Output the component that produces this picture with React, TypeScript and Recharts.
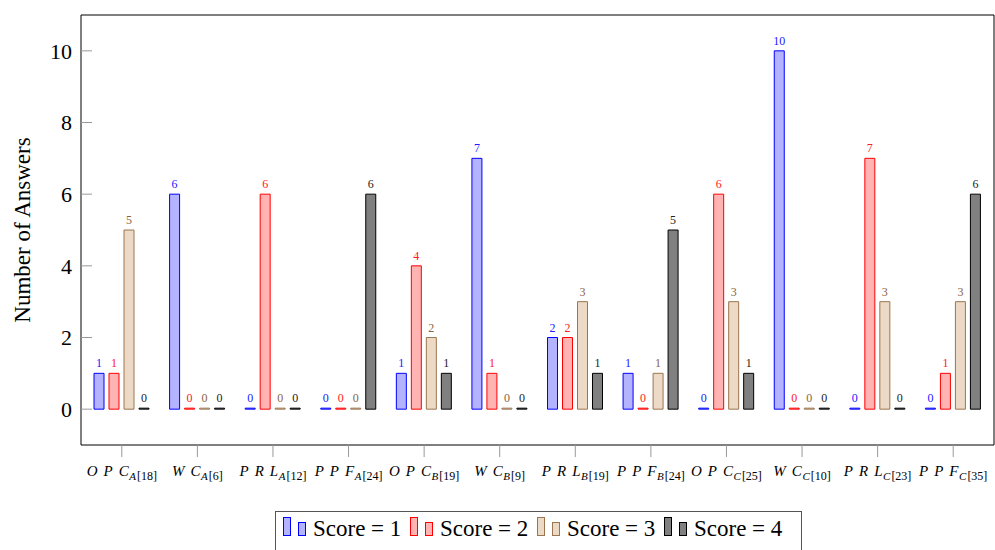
import React from 'react';
import { BarChart, Bar, XAxis, YAxis, LabelList } from 'recharts';

const catMain = ['OPC', 'WC', 'PRL', 'PPF', 'OPC', 'WC', 'PRL', 'PPF', 'OPC', 'WC', 'PRL', 'PPF'];
const catSub = ['A', 'A', 'A', 'A', 'B', 'B', 'B', 'B', 'C', 'C', 'C', 'C'];
const catRef = ['18', '6', '12', '24', '19', '9', '19', '24', '25', '10', '23', '35'];

const score1 = [1, 6, 0, 0, 1, 7, 2, 1, 0, 10, 0, 0];
const score2 = [1, 0, 6, 0, 4, 1, 2, 0, 6, 0, 7, 1];
const score3 = [5, 0, 0, 0, 2, 0, 3, 1, 3, 0, 3, 3];
const score4 = [0, 0, 0, 6, 1, 0, 1, 5, 1, 0, 0, 6];

const yTicks = [0, 2, 4, 6, 8, 10];
const seriesNames = ['Score = 1', 'Score = 2', 'Score = 3', 'Score = 4'];
const seriesKeys = ['s1', 's2', 's3', 's4'];
const strokes = ['#0000ff', '#ff0000', '#9c7650', '#000000'];
const fills = ['#b3b3ff', '#ffb3b3', '#ecd9c6', '#808080'];
const labelColors = ['#2020ff', '#ff2020', '#8a6442', '#222222'];

const names = catMain.map((m, i) => `${m}_${catSub[i]}`);
const data = names.map((n, i) => ({
  name: n,
  s1: score1[i],
  s2: score2[i],
  s3: score3[i],
  s4: score4[i],
}));

const FONT = "Liberation Serif, DejaVu Serif, serif";

function CatTick(props: any) {
  const { x, y, payload } = props;
  const i = names.indexOf(payload.value);
  if (i < 0) return null;
  const main = catMain[i];
  return (
    <text x={x} y={y + 17} textAnchor="middle" fontFamily={FONT} fill="#000">
      <tspan fontStyle="italic" fontSize={15} letterSpacing={6}>{main.slice(0, -1)}</tspan>
      <tspan fontStyle="italic" fontSize={15}>{main.slice(-1)}</tspan>
      <tspan fontStyle="italic" fontSize={11} dy={4} dx={0.5}>{catSub[i]}</tspan>
      <tspan fontSize={12} dx={1}>{`[${catRef[i]}]`}</tspan>
    </text>
  );
}

function LegendBox() {
  const entryW = 127;
  return (
    <svg
      width={528}
      height={39}
      style={{ position: 'absolute', left: 275, top: 511 }}
    >
      <rect x={0.5} y={0.5} width={526} height={40} fill="#fff" stroke="#555" />
      {seriesNames.map((s, i) => {
        const x0 = 8 + i * entryW;
        return (
          <g key={s}>
            <rect x={x0 + 0.5} y={6.5} width={7} height={18} fill={fills[i]} stroke={strokes[i]} />
            <rect x={x0 + 15.5} y={11.5} width={7} height={13} fill={fills[i]} stroke={strokes[i]} />
            <text x={x0 + 30} y={25} fontFamily={FONT} fontSize={23} fill="#000">
              {s}
            </text>
          </g>
        );
      })}
    </svg>
  );
}

export default function App() {
  return (
    <div style={{ position: 'absolute', left: 0, top: 0, width: 995, height: 550, background: '#fff' }}>
      <BarChart
        width={995}
        height={550}
        data={data}
        margin={{ top: 14, right: 0, bottom: 0, left: 0 }}
        barSize={10}
        barGap={5}
      >
        <XAxis
          dataKey="name"
          height={105}
          padding={{ left: 3, right: 3 }}
          axisLine={{ stroke: '#000' }}
          tickLine={{ stroke: '#999' }}
          tickSize={12}
          tickMargin={2}
          interval={0}
          tick={<CatTick />}
        />
        <XAxis
          xAxisId="top"
          dataKey="name"
          orientation="top"
          height={1}
          padding={{ left: 3, right: 3 }}
          axisLine={{ stroke: '#000' }}
          tickLine={{ stroke: '#999' }}
          tickSize={12}
          interval={0}
          tick={false}
        />
        <YAxis
          width={81}
          domain={[-1, 11]}
          ticks={yTicks}
          allowDataOverflow
          axisLine={{ stroke: '#000' }}
          tickLine={{ stroke: '#999' }}
          tickSize={-11}
          tickMargin={20}
          tick={{ fontFamily: FONT, fontSize: 22, fill: '#000' }}
          label={{
            value: 'Number of Answers',
            angle: -90,
            position: 'center',
            dx: -19,
            style: { fontFamily: FONT, fontSize: 23, fill: '#000', textAnchor: 'middle' },
          }}
        />
        <YAxis
          yAxisId="right"
          orientation="right"
          width={1}
          domain={[-1, 11]}
          ticks={yTicks}
          allowDataOverflow
          axisLine={{ stroke: '#000' }}
          tickLine={{ stroke: '#999' }}
          tickSize={-10}
          tick={false}
        />
        {seriesKeys.map((k, i) => (
          <Bar
            key={k}
            dataKey={k}
            name={seriesNames[i]}
            fill={fills[i]}
            stroke={strokes[i]}
            strokeWidth={1}
            minPointSize={1}
            isAnimationActive={false}
          >
            <LabelList
              dataKey={k}
              position="top"
              offset={6}
              fill={labelColors[i]}
              style={{ fontFamily: FONT, fontSize: 12, fill: labelColors[i] }}
            />
          </Bar>
        ))}
      </BarChart>
      <LegendBox />
    </div>
  );
}
